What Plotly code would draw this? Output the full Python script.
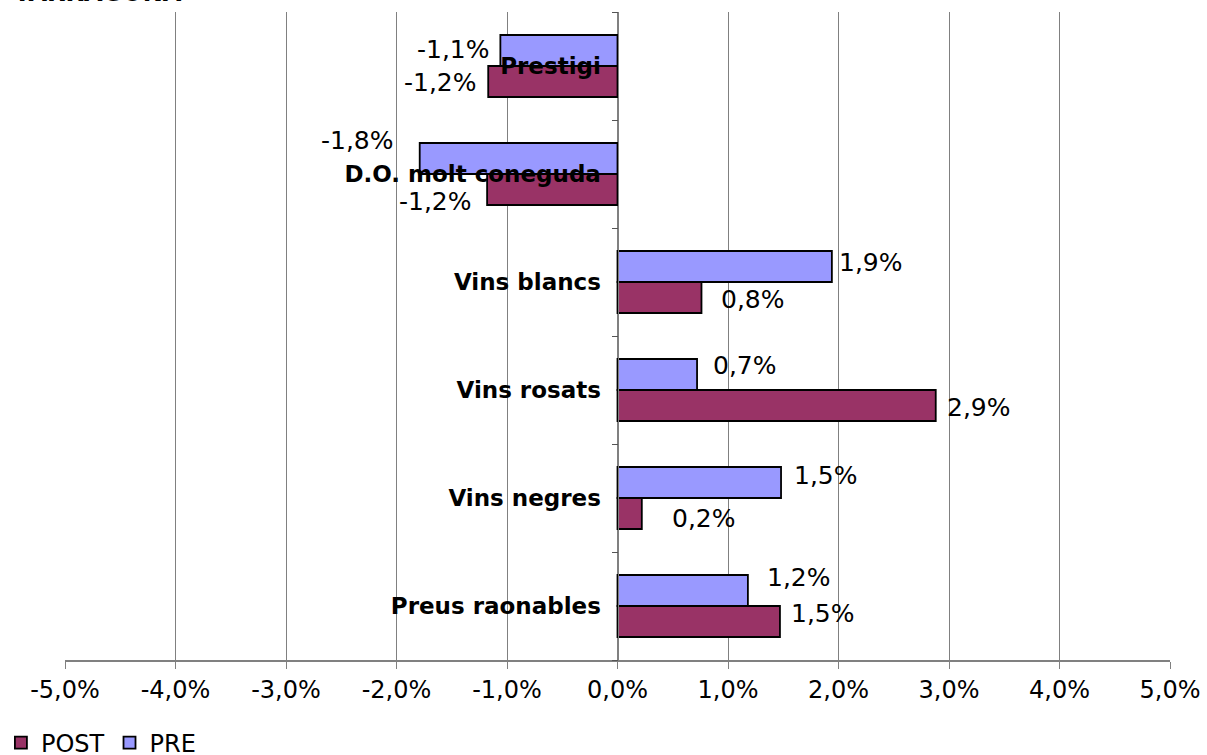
import plotly.graph_objects as go

# ---- data ----
categories = ["Preus raonables", "Vins negres", "Vins rosats", "Vins blancs",
              "D.O. molt coneguda", "Prestigi"]
post_values = [1.47, 0.22, 2.88, 0.76, -1.18, -1.17]
pre_values = [1.18, 1.48, 0.72, 1.94, -1.79, -1.06]
post_labels = ["1,5%", "0,2%", "2,9%", "0,8%", "-1,2%", "-1,2%"]
pre_labels = ["1,2%", "1,5%", "0,7%", "1,9%", "-1,8%", "-1,1%"]
x_tickvals = [-5, -4, -3, -2, -1, 0, 1, 2, 3, 4, 5]
x_ticktext = ["-5,0%", "-4,0%", "-3,0%", "-2,0%", "-1,0%", "0,0%",
              "1,0%", "2,0%", "3,0%", "4,0%", "5,0%"]
title_text = "TARRAGONA"

# ---- style (label nudges in px) ----
post_dx = [9, 28, 9, 18, 13, 9]
post_dy = [8, -5, -2, -2, -12, -1]
pre_dx = [17, 11, 14, 5, 24, 8]
pre_dy = [13, 7, 9, 4, 18, 1]

POST_COLOR = "#993366"
PRE_COLOR = "#9999FF"
FONT = "DejaVu Sans"
BAR_HALF = 15.5
LABEL_SIZE = 25

fig = go.Figure()
fig.add_trace(go.Bar(y=categories, x=post_values, orientation="h", name="POST",
                     marker=dict(color=POST_COLOR, line=dict(color="black", width=1.8))))
fig.add_trace(go.Bar(y=categories, x=pre_values, orientation="h", name="PRE",
                     marker=dict(color=PRE_COLOR, line=dict(color="black", width=1.8))))

annotations = []
for cat, v, lab, dx, dy in zip(categories, post_values, post_labels, post_dx, post_dy):
    annotations.append(dict(x=v, y=cat, xref="x", yref="y", text=lab, showarrow=False,
                            xanchor="left" if v >= 0 else "right",
                            xshift=dx if v >= 0 else -dx, yshift=-BAR_HALF + dy,
                            font=dict(family=FONT, size=LABEL_SIZE, color="black")))
for cat, v, lab, dx, dy in zip(categories, pre_values, pre_labels, pre_dx, pre_dy):
    annotations.append(dict(x=v, y=cat, xref="x", yref="y", text=lab, showarrow=False,
                            xanchor="left" if v >= 0 else "right",
                            xshift=dx if v >= 0 else -dx, yshift=BAR_HALF + dy,
                            font=dict(family=FONT, size=LABEL_SIZE, color="black")))
annotations.append(dict(x=0, y=1, xref="paper", yref="paper", text="<b>" + title_text + "</b>",
                        showarrow=False, xanchor="left", yanchor="bottom",
                        xshift=-53, yshift=3,
                        font=dict(family=FONT, size=24, color="black")))

fig.update_layout(
    width=1207, height=755,
    margin=dict(l=65, r=37, t=12, b=95, autoexpand=False),
    paper_bgcolor="white", plot_bgcolor="white",
    barmode="group", bargap=0.426, bargroupgap=0,
    font=dict(family=FONT, size=24, color="black"),
    showlegend=True,
    legend=dict(orientation="h", x=-0.058, y=-0.128, xanchor="left", yanchor="middle",
                font=dict(family=FONT, size=24), traceorder="normal",
                itemwidth=30, tracegroupgap=0, bgcolor="rgba(0,0,0,0)"),
    annotations=annotations,
    xaxis=dict(range=[-5, 5], tickvals=x_tickvals, ticktext=x_ticktext,
               showgrid=True, gridcolor="#808080", gridwidth=1,
               zeroline=False, showline=True, linecolor="#808080", linewidth=2,
               ticks="outside", ticklen=7, tickcolor="#808080",
               tickfont=dict(family=FONT, size=24), automargin=False, fixedrange=True),
    yaxis=dict(categoryorder="array", categoryarray=categories,
               anchor="free", position=0.5, showline=True, linecolor="#808080", linewidth=1,
               ticks="outside", tickson="boundaries", ticklen=6, tickcolor="#555555",
               showgrid=False, zeroline=False,
               tickvals=categories, ticktext=["<b>" + c + "</b>" for c in categories],
               tickfont=dict(family=FONT, size=23, color="black"),
               ticklabelstandoff=12, automargin=False, fixedrange=True),
)

fig.write_html("out.html", config={"displayModeBar": False},
               post_script="document.body.style.margin='0';document.body.style.overflow='hidden';")
